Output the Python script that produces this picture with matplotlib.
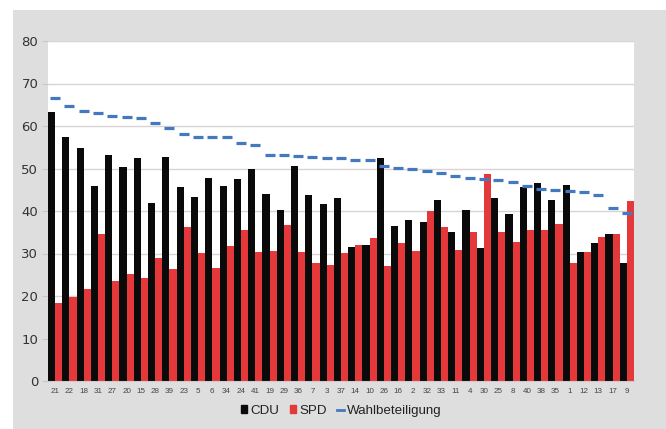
import matplotlib.pyplot as plt
from matplotlib.patches import Rectangle
from matplotlib.lines import Line2D
import numpy as np

plt.rcParams['font.family'] = ['Liberation Sans', 'DejaVu Sans']

# Wahlkreise, sortiert nach Wahlbeteiligung
kreise = ['21', '22', '18', '31', '27', '20', '15', '28', '39', '23',
          '5', '6', '34', '24', '41', '19', '29', '36', '7', '3',
          '37', '14', '10', '26', '16', '2', '32', '33', '11', '4',
          '30', '25', '8', '40', '38', '35', '1', '12', '13', '17', '9']

cdu = [63.2, 57.3, 54.9, 45.9, 53.2, 50.3, 52.4, 42.0, 52.8, 45.6,
       43.4, 47.8, 45.9, 47.5, 50.0, 44.0, 40.2, 50.6, 43.8, 41.6,
       43.1, 31.5, 32.0, 52.5, 36.5, 38.0, 37.5, 42.7, 35.1, 40.3,
       31.2, 43.0, 39.2, 45.7, 46.5, 42.7, 46.2, 30.4, 32.4, 34.7, 27.7]

spd = [18.4, 19.8, 21.7, 34.7, 23.5, 25.1, 24.2, 28.9, 26.3, 36.2,
       30.2, 26.7, 31.8, 35.5, 30.3, 30.5, 36.6, 30.3, 27.8, 27.3,
       30.2, 31.9, 33.7, 27.1, 32.5, 30.7, 40.0, 36.2, 30.8, 35.0,
       48.6, 35.1, 32.6, 35.6, 35.6, 37.0, 27.8, 30.4, 33.9, 34.7, 42.4]

wahl = [66.7, 64.8, 63.5, 63.0, 62.4, 62.1, 61.9, 60.8, 59.5, 58.2,
        57.5, 57.5, 57.4, 56.1, 55.6, 53.2, 53.1, 52.9, 52.7, 52.5,
        52.4, 51.9, 51.9, 50.6, 50.1, 49.9, 49.4, 49.0, 48.2, 47.7,
        47.6, 47.4, 46.9, 45.9, 45.1, 44.9, 44.7, 44.5, 43.7, 40.6, 39.5]

black = '#0a0a0a'
red = '#e5383b'
blue = '#4479c0'

fig = plt.figure(figsize=(6.66, 4.29), dpi=100)
fig.patch.set_facecolor('white')
# grauer Hintergrund
fig.patches.append(Rectangle((13 / 666, 0), 1, 1 - 10 / 429, transform=fig.transFigure,
                             facecolor='#dedede', edgecolor='none', zorder=-10))

ax = fig.add_axes([48 / 666, 48 / 429, 586 / 666, 340 / 429])
ax.set_facecolor('white')

x = np.arange(len(kreise))
ax.bar(x - 0.25, cdu, width=0.5, color=black, zorder=2)
ax.bar(x + 0.25, spd, width=0.5, color=red, zorder=2)
ax.plot(x, wahl, linestyle='none', marker='_', markersize=7.5,
        markeredgewidth=2.3, color=blue, zorder=3)

ax.set_xlim(-0.5, len(kreise) - 0.5)
ax.set_ylim(0, 80)
ax.set_yticks(range(0, 81, 10))
ax.yaxis.grid(True, color='#d9d3d3', linewidth=1)
ax.set_axisbelow(True)
ax.set_xticks(x)
ax.set_xticklabels(kreise, fontsize=5.8, color='#444444')
ax.tick_params(axis='x', length=0, pad=5)
ax.tick_params(axis='y', length=4, color='#c8c8c8', pad=3)
for lab in ax.get_yticklabels():
    lab.set_fontfamily('DejaVu Sans')
    lab.set_fontsize(9.5)
    lab.set_color('#333333')
for s in ['top', 'right', 'left']:
    ax.spines[s].set_visible(False)
ax.spines['bottom'].set_color('#cccccc')

handles = [Rectangle((0, 0), 1, 1, color=black),
           Rectangle((0, 0), 1, 1, color=red),
           Line2D([0], [0], color=blue, linewidth=2)]
fig.legend(handles, ['CDU', 'SPD', 'Wahlbeteiligung'], loc='center',
           bbox_to_anchor=(341 / 666, 1 - 411 / 429), ncol=3, frameon=False,
           fontsize=9.6, handlelength=0.5, handleheight=0.5, handletextpad=0.2,
           columnspacing=0.8, labelcolor='#222222')

fig.savefig('out.png', dpi=100)
